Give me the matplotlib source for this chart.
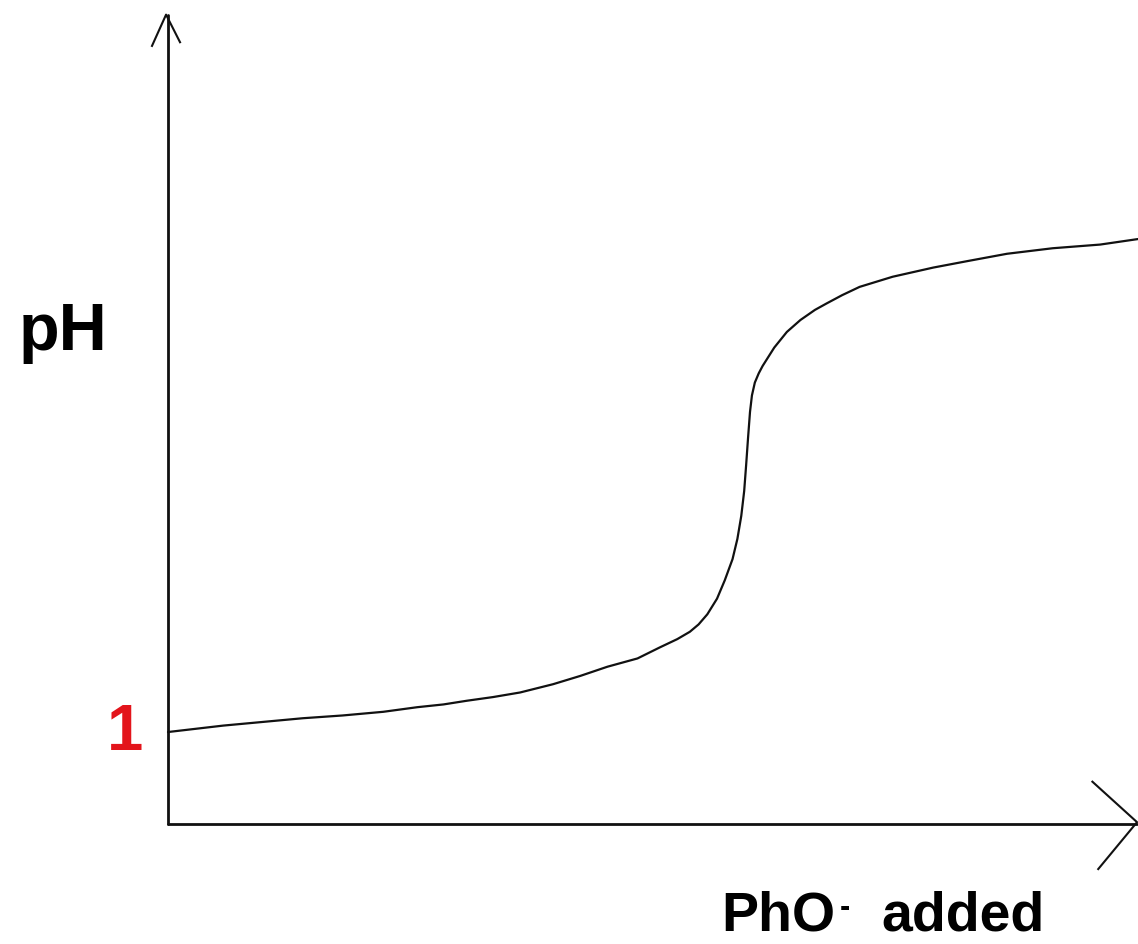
"""
Titration curve sketch: pH vs PhO- added
"""

import matplotlib
matplotlib.use('Agg')
import matplotlib.pyplot as plt

# ── data ─────────────────────────────────────────────────────────────────────
phO_added = [0.00, 0.57, 0.98, 1.39, 1.80, 2.22, 2.57, 2.84, 3.08, 3.35,
             3.63, 3.97, 4.25, 4.53, 4.84, 5.07, 5.25, 5.38, 5.47, 5.56,
             5.66, 5.74, 5.82, 5.87, 5.91, 5.94, 5.96, 5.98, 6.00, 6.02,
             6.05, 6.09, 6.13, 6.25, 6.38, 6.52, 6.67, 6.79, 6.95, 7.13,
             7.47, 7.89, 8.24, 8.65, 9.12, 9.61, 10.00]
pH = [1.00, 1.07, 1.11, 1.15, 1.18, 1.22, 1.27, 1.30, 1.34, 1.38,
      1.43, 1.52, 1.61, 1.71, 1.80, 1.92, 2.01, 2.09, 2.17, 2.28,
      2.45, 2.65, 2.88, 3.10, 3.35, 3.62, 3.90, 4.20, 4.48, 4.66,
      4.80, 4.90, 4.98, 5.18, 5.35, 5.48, 5.59, 5.66, 5.75, 5.84,
      5.95, 6.05, 6.12, 6.20, 6.26, 6.30, 6.36]
start_pH = 1

X_MAX = 10.0
Y_MAX = 8.97

# ── figure ────────────────────────────────────────────────────────────────────
W, H = 1138, 945
fig = plt.figure(figsize=(W / 100, H / 100), dpi=100)
fig.patch.set_facecolor('white')

# axes origin sits at pixel (168, 825)
ax = fig.add_axes([168 / W, 120 / H, 970 / W, 825 / H])
ax.set_xlim(0, X_MAX)
ax.set_ylim(0, Y_MAX)
ax.axis('off')

# titration curve
ax.plot(phO_added, pH, color='#111111', lw=1.6, solid_capstyle='round',
        solid_joinstyle='round', clip_on=False, zorder=3)

# hand-drawn style axes with open arrowheads
axis_kw = dict(color='#111111', lw=2.0, clip_on=False, solid_capstyle='round')
ax.plot([0, 0], [0, 8.80], **axis_kw)
ax.plot([0, X_MAX - 0.01], [0, 0], **axis_kw)
arrow_kw = dict(color='#111111', lw=1.5, clip_on=False)
ax.plot([-0.165, -0.02, 0.124], [8.46, 8.80, 8.50], **arrow_kw)
ax.plot([9.53, 9.99, 9.59], [0.46, 0.02, -0.49], **arrow_kw)

# ── labels ────────────────────────────────────────────────────────────────────
font = ['Liberation Sans', 'DejaVu Sans']

fig.text(19 / W, 1 - 350 / H, 'pH', family=font, fontsize=48,
         fontweight='bold', color='black', ha='left', va='baseline')

ax.text(-0.26, start_pH, str(start_pH), family=font, fontsize=47,
        fontweight='bold', color='#e3141b', ha='right', va='center')

fig.text(721 / W, 1 - 931 / H, 'PhO', family=font, fontsize=40,
         fontweight='bold', color='black', ha='left', va='baseline')
fig.text(840 / W, 1 - 908 / H, '-', family=font, fontsize=22,
         fontweight='bold', color='black', ha='left', va='center')
fig.text(1045 / W, 1 - 931 / H, 'added', family=font, fontsize=40,
         fontweight='bold', color='black', ha='right', va='baseline')

fig.savefig('out.png', dpi=100, facecolor='white')
plt.close(fig)
